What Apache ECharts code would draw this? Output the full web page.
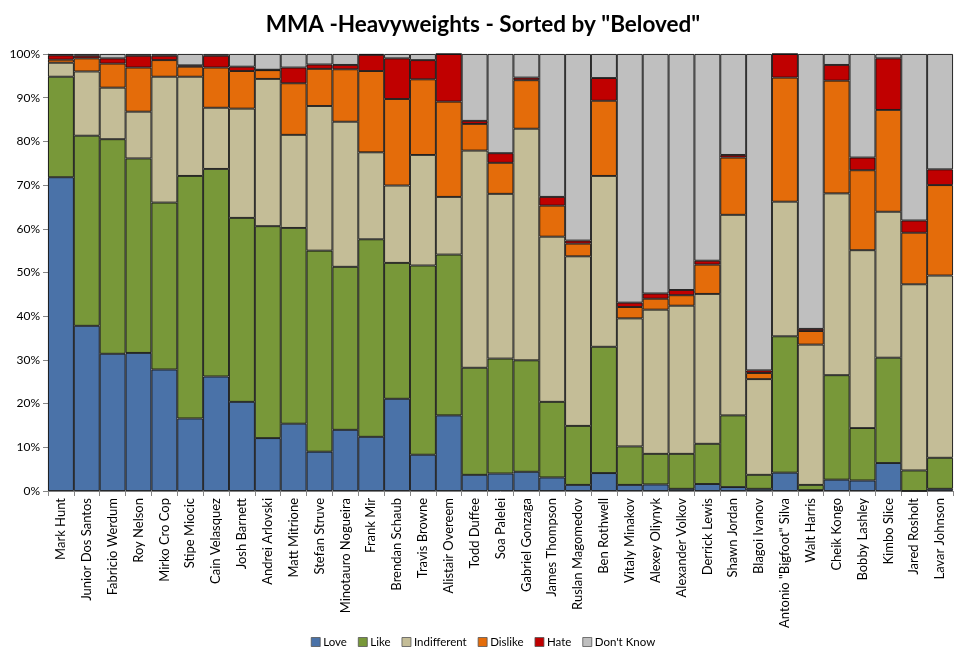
<!DOCTYPE html>
<html>
<head>
<meta charset="utf-8">
<script src="https://cdn.jsdelivr.net/npm/echarts@6/dist/echarts.min.js"></script>
<style>
html,body{margin:0;padding:0;background:#fff;}
#chart{width:966px;height:662px;}
</style>
</head>
<body>
<div id="chart"></div>
<script>
const fighters = ["Mark Hunt","Junior Dos Santos","Fabricio Werdum","Roy Nelson","Mirko Cro Cop","Stipe Miocic","Cain Velasquez","Josh Barnett","Andrei Arlovski","Matt Mitrione","Stefan Struve","Minotauro Nogueira","Frank Mir","Brendan Schaub","Travis Browne","Alistair Overeem","Todd Duffee","Soa Palelei","Gabriel Gonzaga","James Thompson","Ruslan Magomedov","Ben Rothwell","Vitaly Minakov","Alexey Oliynyk","Alexander Volkov","Derrick Lewis","Shawn Jordan","Blagoi Ivanov","Antonio \"Bigfoot\" Silva","Walt Harris","Cheik Kongo","Bobby Lashley","Kimbo Slice","Jared Rosholt","Lavar Johnson"];

const love        = [71.8,37.8,31.4,31.6,27.8,16.6,26.2,20.4,12.1,15.4, 9.0,14.0,12.4,21.1, 8.3,17.3, 3.7, 4.0, 4.4, 3.1, 1.4, 4.1, 1.4, 1.5, 0.5, 1.6, 0.9, 0.5, 4.2, 0.2, 2.6, 2.4, 6.4, 0.0, 0.5];
const like        = [23.0,43.5,49.1,44.5,38.2,55.5,47.5,42.1,48.5,44.8,46.0,37.3,45.2,31.1,43.3,36.8,24.5,26.3,25.5,17.3,13.5,28.9, 8.8, 7.0, 8.0, 9.2,16.4, 3.2,31.2, 1.2,23.9,12.0,24.1, 4.7, 7.1];
const indifferent = [ 3.2,14.7,11.8,10.7,28.8,22.7,14.0,25.0,33.7,21.3,33.1,33.2,19.9,17.7,25.3,13.2,49.7,37.7,53.0,37.8,38.8,39.1,29.3,33.0,33.9,34.3,45.9,21.9,30.8,32.1,41.6,40.7,33.4,42.6,41.7];
const dislike     = [ 0.7, 3.0, 5.5,10.1, 3.8, 2.3, 9.2, 8.6, 2.0,11.8, 8.5,12.0,18.6,19.8,17.3,21.8, 6.1, 7.1,11.1, 7.1, 2.9,17.2, 2.6, 2.5, 2.4, 6.7,13.1, 1.4,28.4, 3.1,25.8,18.3,23.3,11.8,20.7];
const hate        = [ 1.0, 0.6, 1.2, 2.7, 1.0, 0.3, 2.7, 1.0, 0.1, 3.6, 1.0, 1.0, 3.7, 9.3, 4.4,10.9, 0.7, 2.2, 0.6, 2.0, 0.7, 5.2, 1.0, 1.2, 1.2, 0.9, 0.6, 0.6, 5.4, 0.5, 3.6, 2.9,11.8, 2.8, 3.6];
const dontKnow    = [ 0.3, 0.4, 1.0, 0.4, 0.4, 2.6, 0.4, 2.9, 3.6, 3.1, 2.4, 2.5, 0.2, 1.0, 1.4, 0.0,15.3,22.7, 5.4,32.7,42.7, 5.5,56.9,54.8,54.0,47.3,23.1,72.4, 0.0,62.9, 2.5,23.7, 1.0,38.1,26.4];

const seriesNames = ["Love","Like","Indifferent","Dislike","Hate","Don't Know"];
const seriesColors = ["#4A72A8","#789839","#C4BD97","#E46C0A","#C00000","#BFBFBF"];
const seriesData = [love, like, indifferent, dislike, hate, dontKnow];
const yTicks = [0,10,20,30,40,50,60,70,80,90,100];

const FONT = "Lato, 'Open Sans', sans-serif";
const chart = echarts.init(document.getElementById('chart'), null, {renderer:'canvas'});
chart.setOption({
  animation:false,
  backgroundColor:'#fff',
  title:{
    text:'MMA -Heavyweights - Sorted by "Beloved"',
    left:'center', top:8,
    textStyle:{fontFamily:FONT, fontSize:22.5, fontWeight:'bold', color:'#000'}
  },
  legend:{
    bottom:9, left:'center',
    itemWidth:9, itemHeight:9, itemGap:11,
    icon:'rect',
    textStyle:{fontFamily:FONT, fontSize:11.5, color:'#000', padding:[0,0,0,-2]},
    data:seriesNames.map(n=>({name:n, itemStyle:{borderColor:'#555', borderWidth:0.8}}))
  },
  grid:{left:48, right:13, top:54, bottom:171},
  xAxis:{
    type:'category',
    data:fighters,
    axisLine:{lineStyle:{color:'#868686'}},
    axisTick:{show:true, alignWithLabel:false, interval:0, length:5, lineStyle:{color:'#868686'}},
    axisLabel:{interval:0, rotate:90, fontFamily:FONT, fontSize:13, color:'#000', margin:7}
  },
  yAxis:{
    type:'value', min:yTicks[0], max:yTicks[yTicks.length-1], interval:10,
    axisLine:{show:true, lineStyle:{color:'#868686'}},
    axisTick:{show:true, length:5, lineStyle:{color:'#868686'}},
    splitLine:{show:false},
    axisLabel:{formatter:'{value}%', fontFamily:FONT, fontSize:12, color:'#000', margin:8}
  },
  series:seriesNames.map((n,i)=>({
    name:n, type:'bar', stack:'total',
    barCategoryGap:0,
    data:seriesData[i],
    itemStyle:{color:seriesColors[i], borderColor:'#111', borderWidth:0.9}
  }))
});
</script>
</body>
</html>
